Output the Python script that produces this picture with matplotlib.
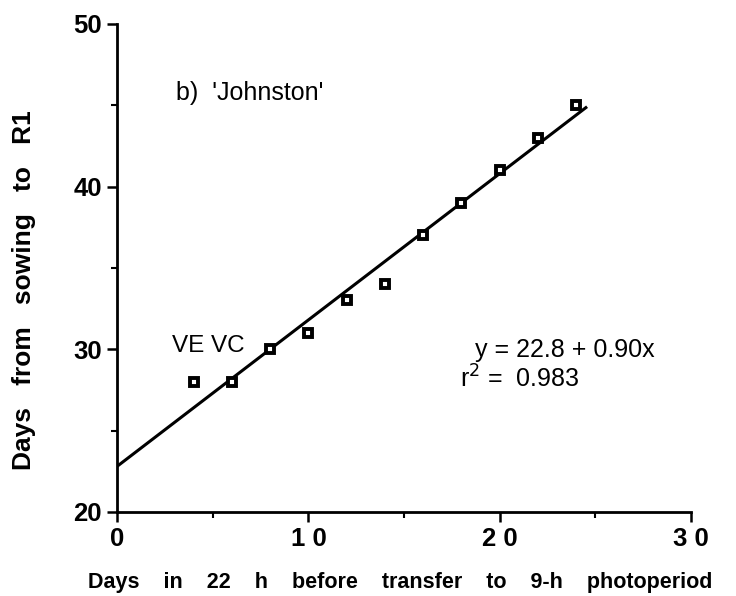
import matplotlib.pyplot as plt
import numpy as np

# --- Data ---
days_22h = [4, 6, 8, 10, 12, 14, 16, 18, 20, 22, 24]
days_to_r1 = [28, 28, 30, 31, 33, 34, 37, 39, 41, 43, 45]
intercept = 22.8
slope = 0.90
x_ticks = [0, 10, 20, 30]
x_tick_labels = ['0', '1 0', '2 0', '3 0']
y_ticks = [20, 30, 40, 50]

plt.rcParams['font.family'] = ['Liberation Sans', 'DejaVu Sans']

fig = plt.figure(figsize=(7.36, 5.96), dpi=100)
ax = fig.add_axes([0.159, 0.141, 0.78, 0.819])

# regression line
x_fit = np.array([0, 24.5])
ax.plot(x_fit, intercept + slope * x_fit, color='black', lw=2.2, zorder=2)

# observations
ax.plot(days_22h, days_to_r1, ls='none', marker='s', ms=5.5,
        mfc='white', mec='black', mew=2.8, zorder=3)

ax.set_xlim(0, 30)
ax.set_ylim(20, 50)
ax.set_xticks(x_ticks)
ax.set_xticklabels(x_tick_labels)
ax.set_yticks(y_ticks)
ax.set_xticks([5, 15, 25], minor=True)
ax.set_yticks([25, 35, 45], minor=True)

for s in ['top', 'right']:
    ax.spines[s].set_visible(False)
for s in ['left', 'bottom']:
    ax.spines[s].set_linewidth(2)
    ax.spines[s].set_clip_on(False)

ax.tick_params(which='major', direction='out', length=7, width=1.8, pad=4)
ax.tick_params(which='minor', direction='out', length=4, width=1.5)
for lbl in ax.get_xticklabels() + ax.get_yticklabels():
    lbl.set_fontweight('bold')
    lbl.set_fontsize(18.5)

ax.set_xlabel('Days    in    22    h    before    transfer    to    9-h    photoperiod',
              fontsize=15.5, fontweight='bold', va='center')
ax.xaxis.set_label_coords(0.493, -0.145)
ax.set_ylabel('Days   from   sowing   to   R1',
              fontsize=19, fontweight='bold', va='center')
ax.yaxis.set_label_coords(-0.162, 0.455)

ax.text(3.08, 45.75, "b)  'Johnston'", fontsize=18, va='center')
ax.text(2.87, 30.2, 'VE VC', fontsize=17.5, va='center')
ax.text(18.7, 29.96, 'y = 22.8 + 0.90x', fontsize=18, va='center')
ax.text(17.9, 28.2, r'r$^2$ =  0.983', fontsize=18, va='center')

fig.savefig('out.png', dpi=100)
